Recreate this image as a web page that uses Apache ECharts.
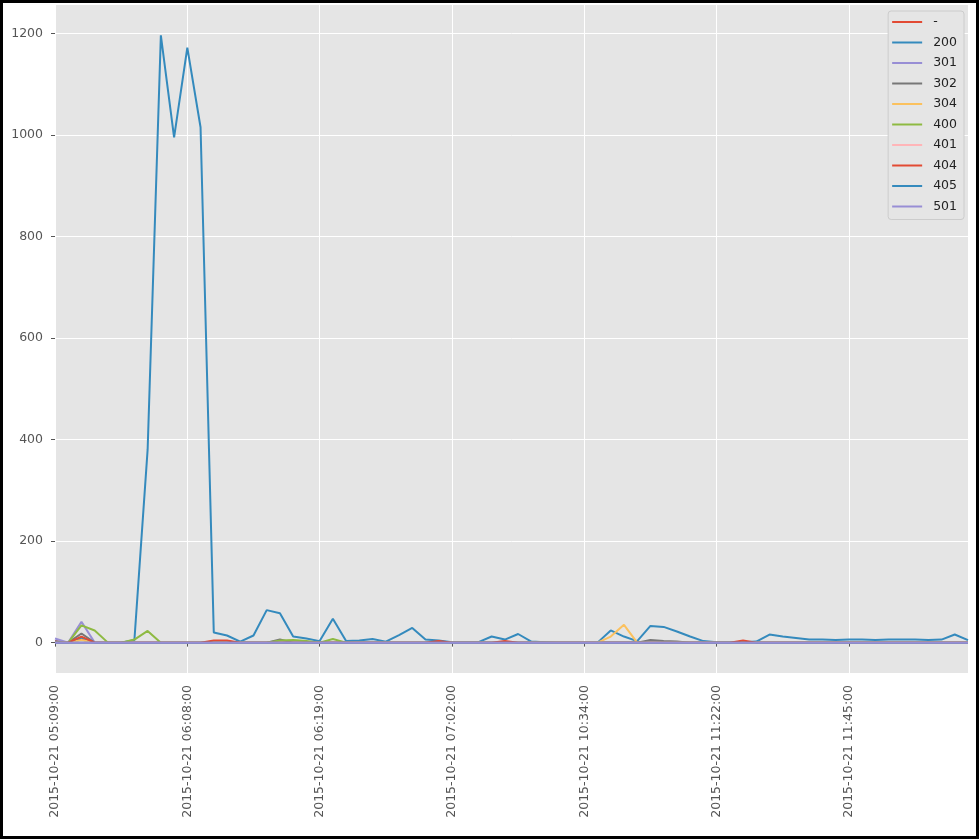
<!DOCTYPE html>
<html>
<head>
<meta charset="utf-8">
<script src="https://cdn.jsdelivr.net/npm/echarts@6/dist/echarts.min.js"></script>
<style>
html,body{margin:0;padding:0;background:#fff;}
#main{width:979px;height:839px;}
</style>
</head>
<body>
<div id="main"></div>
<script>
const categories = [
"2015-10-21 05:09:00","2015-10-21 05:14:00","2015-10-21 05:22:00","2015-10-21 05:30:00","2015-10-21 05:38:00",
"2015-10-21 05:45:00","2015-10-21 05:52:00","2015-10-21 06:02:00","2015-10-21 06:04:00","2015-10-21 06:06:00",
"2015-10-21 06:08:00","2015-10-21 06:09:00","2015-10-21 06:10:00","2015-10-21 06:11:00","2015-10-21 06:12:00",
"2015-10-21 06:13:00","2015-10-21 06:14:00","2015-10-21 06:15:00","2015-10-21 06:16:00","2015-10-21 06:17:00",
"2015-10-21 06:19:00","2015-10-21 06:23:00","2015-10-21 06:27:00","2015-10-21 06:31:00","2015-10-21 06:35:00",
"2015-10-21 06:39:00","2015-10-21 06:44:00","2015-10-21 06:48:00","2015-10-21 06:53:00","2015-10-21 06:57:00",
"2015-10-21 07:02:00","2015-10-21 07:25:00","2015-10-21 07:50:00","2015-10-21 08:15:00","2015-10-21 08:40:00",
"2015-10-21 09:02:00","2015-10-21 09:20:00","2015-10-21 09:41:00","2015-10-21 10:03:00","2015-10-21 10:19:00",
"2015-10-21 10:34:00","2015-10-21 10:41:00","2015-10-21 10:47:00","2015-10-21 10:52:00","2015-10-21 10:58:00",
"2015-10-21 11:03:00","2015-10-21 11:07:00","2015-10-21 11:11:00","2015-10-21 11:15:00","2015-10-21 11:18:00",
"2015-10-21 11:22:00","2015-10-21 11:24:00","2015-10-21 11:27:00","2015-10-21 11:29:00","2015-10-21 11:31:00",
"2015-10-21 11:33:00","2015-10-21 11:35:00","2015-10-21 11:37:00","2015-10-21 11:39:00","2015-10-21 11:42:00",
"2015-10-21 11:45:00","2015-10-21 11:47:00","2015-10-21 11:49:00","2015-10-21 11:51:00","2015-10-21 11:54:00",
"2015-10-21 11:56:00","2015-10-21 11:58:00","2015-10-21 12:00:00","2015-10-21 12:02:00","2015-10-21 12:05:00"
];

const seriesNames = ["-","200","301","302","304","400","401","404","405","501"];

const sDash = [3,0,6,0,0,0,0,0,0,0, 0,0,0,0,0,0,0,0,0,0, 0,0,0,0,0,0,0,0,0,0, 0,0,0,0,0,0,0,0,0,0, 0,0,0,0,0,0,0,0,0,0, 0,0,0,0,0,0,0,0,0,0, 0,0,0,0,0,0,0,0,0,0];
const s200 = [2,0,10,0,0,0,5,380,1196,995, 1172,1015,20,14,2,14,64,58,12,8, 3,47,3,4,7,2,15,29,6,4, 1,1,1,12,6,17,2,1,0,0, 0,0,24,12,3,33,31,22,12,3, 1,1,1,2,16,12,9,6,6,5, 6,6,5,6,6,6,5,6,16,5];
const s301 = [8,0,41,0,0,0,0,0,0,0, 0,0,0,0,0,0,0,0,0,0, 0,0,0,0,0,0,0,0,0,0, 0,0,0,0,0,0,0,0,0,0, 0,0,0,0,0,0,0,0,0,0, 0,0,0,0,0,0,0,0,0,0, 0,0,0,0,0,0,0,0,0,0];
const s302 = [0,0,18,0,0,0,0,0,0,0, 0,0,0,0,0,0,0,6,0,0, 0,0,0,0,0,0,0,0,0,0, 0,0,0,0,0,0,0,0,0,0, 0,0,0,0,0,5,3,2,0,0, 0,0,0,0,0,0,0,0,0,0, 0,0,0,0,0,0,0,0,0,0];
const s304 = [0,0,5,0,0,0,0,0,0,0, 0,0,0,0,0,0,0,0,0,0, 0,0,0,0,0,0,0,0,0,0, 0,0,0,0,0,0,0,0,0,0, 0,0,12,35,0,0,0,0,0,0, 0,0,0,0,0,0,0,0,0,0, 0,0,0,0,0,0,0,0,0,0];
const s400 = [0,0,34,24,0,0,6,23,0,0, 0,0,0,0,0,0,0,4,5,3, 0,7,0,0,0,0,0,0,0,0, 0,0,0,0,0,0,0,0,0,0, 0,0,0,0,0,0,0,0,0,0, 0,0,0,0,0,0,0,0,0,0, 0,0,0,0,0,0,0,0,0,0];
const s401 = [0,0,0,0,0,0,0,0,0,0, 0,0,0,0,0,0,0,0,0,0, 0,0,0,0,0,0,0,0,0,0, 0,0,0,0,0,0,0,0,0,0, 0,0,0,0,0,0,0,0,0,0, 0,0,0,0,0,0,0,0,0,0, 0,0,0,0,0,0,0,0,0,0];
const s404 = [0,0,12,0,0,0,0,0,0,0, 0,0,4,4,0,0,0,0,0,0, 0,0,0,0,0,0,0,0,0,3, 0,0,0,0,3,0,0,0,0,0, 0,0,0,0,0,0,0,0,0,0, 0,0,4,0,0,0,0,0,0,0, 0,0,0,0,0,0,0,0,0,0];
const s405 = [0,0,0,0,0,0,0,0,0,0, 0,0,0,0,0,0,0,0,0,0, 0,0,0,0,0,0,0,0,0,0, 0,0,0,0,0,0,0,0,0,0, 0,0,0,0,0,0,0,0,0,0, 0,0,0,0,0,0,0,0,0,0, 0,0,0,0,0,0,0,0,0,0];
const s501 = [0,0,0,0,0,0,0,0,0,0, 0,0,0,0,0,0,0,0,0,0, 0,0,0,0,0,0,0,0,0,0, 0,0,0,0,0,0,0,0,0,0, 0,0,0,0,0,0,0,0,0,0, 0,0,0,0,0,0,0,0,0,0, 0,0,0,0,0,0,0,0,0,0];

const yTicks = [0,200,400,600,800,1000,1200];
const colors = ["#E24A33","#348ABD","#988ED5","#777777","#FBC15E","#8EBA42","#FFB5B8","#E24A33","#348ABD","#988ED5"];
const allData = [sDash,s200,s301,s302,s304,s400,s401,s404,s405,s501];

const chart = echarts.init(document.getElementById('main'), null, {renderer:'canvas'});
const font = "DejaVu Sans";

const series = seriesNames.map((n,i)=>({
  name:n, type:'line', data:allData[i], showSymbol:false, symbol:'none',
  lineStyle:{width:2, color:colors[i]}, itemStyle:{color:colors[i]},
  animation:false
}));

const option = {
  animation:false,
  backgroundColor:'#fff',
  color:colors,
  grid:{left:55,right:11,top:5,bottom:166,show:true,backgroundColor:'#E5E5E5',borderWidth:0},
  legend:{
    orient:'vertical', right:15, top:11,
    data:seriesNames,
    icon:'rect', itemWidth:30, itemHeight:2, itemGap:6.5,
    padding:[4,7,6,4],
    backgroundColor:'#E5E5E5', borderColor:'#CCCCCC', borderWidth:1, borderRadius:3,
    textStyle:{fontFamily:font, fontSize:12.5, color:'#222', lineHeight:14, padding:[0,0,0,6]}
  },
  xAxis:{
    type:'category', data:categories, boundaryGap:false,
    axisLine:{show:false},
    axisTick:{show:true, interval:9, length:4, lineStyle:{color:'#555'}},
    axisLabel:{interval:9, rotate:90, margin:12, fontFamily:font, fontSize:12.5, color:'#555'},
    splitLine:{show:true, interval:9, lineStyle:{color:'#fff', width:1}}
  },
  yAxis:{
    type:'value', min:-59.8, max:1255.8, splitNumber:7,
    axisLine:{show:false},
    axisTick:{show:true, length:4, lineStyle:{color:'#555'}, customValues:yTicks},
    axisLabel:{margin:12, fontFamily:font, fontSize:12.5, color:'#555', customValues:yTicks,
      formatter:function(v){return String(v);}},
    splitLine:{show:true, lineStyle:{color:'#fff', width:1}}
  },
  graphic:[{type:'rect', silent:true, z:100, shape:{x:1.5,y:1.5,width:976,height:836}, style:{fill:'none', stroke:'#000', lineWidth:3}}],
  series:series
};
chart.setOption(option);
</script>
</body>
</html>
